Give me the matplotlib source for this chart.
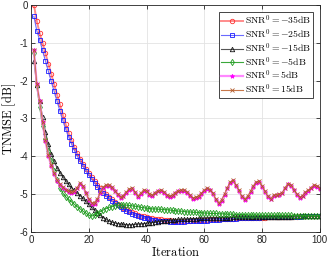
import numpy as np
import matplotlib
matplotlib.use('Agg')
import matplotlib.pyplot as plt

plt.rcParams['mathtext.fontset'] = 'cm'
plt.rcParams['axes.unicode_minus'] = False
plt.rcParams['font.family'] = ['Liberation Sans', 'DejaVu Sans']

iters = np.arange(1, 101)

snr_m35 = [0.0, -0.42, -0.75, -1.0, -1.28, -1.55, -1.82, -2.1, -2.37, -2.63,
           -2.9, -3.15, -3.38, -3.58, -3.76, -3.92, -4.06, -4.2, -4.33, -4.45,
           -4.56, -4.66, -4.76, -4.85, -4.93, -5.0, -5.07, -5.14, -5.2, -5.26,
           -5.31, -5.36, -5.4, -5.44, -5.48, -5.51, -5.54, -5.57, -5.59, -5.61,
           -5.63, -5.64, -5.65, -5.66, -5.67, -5.68, -5.69, -5.69, -5.7, -5.7,
           -5.7, -5.7, -5.7, -5.7, -5.7, -5.69, -5.69, -5.69, -5.68, -5.68,
           -5.68, -5.67, -5.67, -5.67, -5.66, -5.66, -5.66, -5.65, -5.65, -5.65,
           -5.64, -5.64, -5.64, -5.63, -5.63, -5.63, -5.63, -5.62, -5.62, -5.62,
           -5.62, -5.61, -5.61, -5.61, -5.61, -5.61, -5.6, -5.6, -5.6, -5.6,
           -5.6, -5.6, -5.59, -5.59, -5.59, -5.59, -5.59, -5.59, -5.59, -5.59]

snr_m25 = [-0.3, -0.68, -0.93, -1.2, -1.48, -1.75, -2.02, -2.28, -2.54, -2.8,
           -3.05, -3.28, -3.48, -3.67, -3.84, -3.99, -4.13, -4.26, -4.38, -4.5,
           -4.61, -4.71, -4.8, -4.89, -4.97, -5.04, -5.11, -5.18, -5.24, -5.3,
           -5.35, -5.4, -5.44, -5.48, -5.52, -5.55, -5.58, -5.6, -5.62, -5.64,
           -5.66, -5.68, -5.69, -5.7, -5.71, -5.72, -5.72, -5.73, -5.73, -5.73,
           -5.73, -5.73, -5.73, -5.72, -5.72, -5.72, -5.71, -5.71, -5.71, -5.7,
           -5.7, -5.69, -5.69, -5.68, -5.68, -5.67, -5.67, -5.66, -5.66, -5.65,
           -5.65, -5.64, -5.64, -5.63, -5.63, -5.63, -5.62, -5.62, -5.62, -5.61,
           -5.61, -5.61, -5.61, -5.6, -5.6, -5.6, -5.6, -5.6, -5.6, -5.6,
           -5.6, -5.6, -5.6, -5.59, -5.59, -5.59, -5.59, -5.59, -5.59, -5.59]

snr_m15 = [-1.48, -2.12, -2.55, -2.95, -3.35, -3.68, -3.93, -4.13, -4.3, -4.43,
           -4.54, -4.65, -4.74, -4.83, -4.9, -4.97, -5.04, -5.11, -5.19, -5.27,
           -5.35, -5.42, -5.5, -5.56, -5.62, -5.67, -5.71, -5.74, -5.76, -5.78,
           -5.79, -5.8, -5.81, -5.81, -5.81, -5.8, -5.79, -5.79, -5.78, -5.77,
           -5.76, -5.75, -5.74, -5.73, -5.72, -5.71, -5.7, -5.69, -5.68, -5.68,
           -5.67, -5.67, -5.66, -5.66, -5.65, -5.65, -5.65, -5.64, -5.64, -5.64,
           -5.63, -5.63, -5.63, -5.63, -5.62, -5.62, -5.62, -5.62, -5.62, -5.61,
           -5.61, -5.61, -5.61, -5.61, -5.61, -5.61, -5.61, -5.61, -5.61, -5.61,
           -5.6, -5.6, -5.6, -5.6, -5.6, -5.6, -5.6, -5.6, -5.6, -5.6,
           -5.59, -5.59, -5.59, -5.59, -5.59, -5.59, -5.59, -5.59, -5.59, -5.59]

snr_m5 = [-1.28, -2.15, -2.7, -3.2, -3.55, -3.85, -4.12, -4.4, -4.62, -4.83,
          -4.97, -5.07, -5.14, -5.2, -5.27, -5.33, -5.39, -5.45, -5.5, -5.56,
          -5.58, -5.55, -5.51, -5.46, -5.42, -5.38, -5.35, -5.33, -5.31, -5.3,
          -5.29, -5.29, -5.29, -5.3, -5.31, -5.32, -5.33, -5.35, -5.36, -5.37,
          -5.38, -5.39, -5.39, -5.4, -5.4, -5.41, -5.41, -5.42, -5.43, -5.44,
          -5.45, -5.45, -5.46, -5.47, -5.47, -5.48, -5.48, -5.49, -5.49, -5.5,
          -5.5, -5.51, -5.51, -5.51, -5.52, -5.52, -5.52, -5.53, -5.53, -5.53,
          -5.54, -5.54, -5.54, -5.54, -5.55, -5.55, -5.55, -5.55, -5.55, -5.56,
          -5.56, -5.56, -5.56, -5.56, -5.56, -5.56, -5.56, -5.56, -5.56, -5.56,
          -5.57, -5.57, -5.57, -5.57, -5.57, -5.57, -5.57, -5.57, -5.57, -5.57]

snr_p5 = [-1.2, -2.1, -2.55, -3.1, -3.6, -3.98, -4.25, -4.47, -4.64, -4.76,
          -4.84, -4.9, -4.94, -4.96, -4.95, -4.85, -4.73, -4.8, -4.98, -5.15,
          -5.25, -5.26, -5.15, -4.97, -4.83, -4.78, -4.78, -4.84, -4.93, -5.02,
          -5.1, -5.06, -4.97, -4.88, -4.86, -4.97, -5.07, -5.0, -4.91, -4.93,
          -5.02, -5.04, -4.98, -4.93, -4.91, -4.96, -5.04, -5.08, -5.04, -4.98,
          -4.93, -4.91, -4.91, -4.96, -5.05, -5.12, -5.1, -5.07, -5.0, -4.92,
          -4.86, -4.9, -5.0, -5.15, -5.26, -5.17, -5.02, -4.85, -4.7, -4.65,
          -4.78, -4.92, -5.08, -5.15, -5.08, -4.95, -4.8, -4.7, -4.68, -4.8,
          -4.95, -5.08, -5.14, -5.05, -5.03, -5.02, -4.98, -4.85, -4.74, -4.78,
          -4.9, -5.02, -5.1, -5.06, -4.97, -4.92, -4.85, -4.78, -4.8, -4.87]

snr_p15 = [-1.19, -2.09, -2.54, -3.08, -3.58, -3.96, -4.23, -4.45, -4.62, -4.74,
           -4.82, -4.88, -4.92, -4.94, -4.93, -4.83, -4.71, -4.78, -4.96, -5.13,
           -5.23, -5.24, -5.13, -4.95, -4.81, -4.76, -4.76, -4.82, -4.91, -5.0,
           -5.08, -5.04, -4.95, -4.86, -4.84, -4.95, -5.05, -4.98, -4.89, -4.91,
           -5.0, -5.02, -4.96, -4.91, -4.89, -4.94, -5.02, -5.06, -5.02, -4.96,
           -4.91, -4.89, -4.89, -4.94, -5.03, -5.1, -5.08, -5.05, -4.98, -4.9,
           -4.84, -4.88, -4.98, -5.13, -5.24, -5.15, -5.0, -4.83, -4.68, -4.63,
           -4.76, -4.9, -5.06, -5.13, -5.06, -4.93, -4.78, -4.68, -4.66, -4.78,
           -4.93, -5.06, -5.12, -5.03, -5.01, -5.0, -4.96, -4.83, -4.72, -4.76,
           -4.88, -5.0, -5.08, -5.04, -4.95, -4.9, -4.83, -4.76, -4.78, -4.85]

labels = [r'$\mathrm{SNR}^0=-35\mathrm{dB}$', r'$\mathrm{SNR}^0=-25\mathrm{dB}$',
          r'$\mathrm{SNR}^0=-15\mathrm{dB}$', r'$\mathrm{SNR}^0=-5\mathrm{dB}$',
          r'$\mathrm{SNR}^0=5\mathrm{dB}$', r'$\mathrm{SNR}^0=15\mathrm{dB}$']

fig = plt.figure(figsize=(3.32, 2.63), dpi=100)
ax = fig.add_axes([0.0934, 0.118, 0.870, 0.863])

ms = 3.2
ax.plot(iters, snr_m35, color='#ff8c8c', lw=1.4, marker='o', ms=ms, mfc='none', mec='#ff3030', mew=0.6, label=labels[0])
ax.plot(iters, snr_m25, color='#6a6aff', lw=0.8, marker='s', ms=ms - 0.3, mfc='none', mec='#1a1aff', mew=0.6, label=labels[1])
ax.plot(iters, snr_m15, color='#555555', lw=0.8, marker='^', ms=ms, mfc='none', mec='#111111', mew=0.6, label=labels[2])
ax.plot(iters, snr_m5, color='#3aa83a', lw=0.8, marker='d', ms=ms, mfc='none', mec='#1c9a1c', mew=0.6, label=labels[3])
ax.plot(iters, snr_p5, color='#ff88ff', lw=1.6, marker='*', ms=ms, mfc='#ff00ff', mec='#ff00ff', mew=0.6, label=labels[4])
ax.plot(iters, snr_p15, color='#c8784a', lw=0.8, marker='x', ms=ms - 0.8, mfc='none', mec='#b05a2a', mew=0.6, label=labels[5])

ax.set_xlim(0, 100)
ax.set_ylim(-6, 0)
ax.set_xticks([0, 20, 40, 60, 80, 100])
ax.set_xticklabels(['0', '20', '40', '60', '80', '100'])
ax.set_yticks([0, -1, -2, -3, -4, -5, -6])
ax.set_yticklabels(['0', '-1', '-2', '-3', '-4', '-5', '-6'])
ax.tick_params(direction='in', length=3, width=0.6, labelsize=7, colors='#262626',
               top=True, right=True, pad=2)
ax.grid(True, color='#e3e3e3', lw=0.6)
ax.set_axisbelow(True)
for s in ax.spines.values():
    s.set_color('#262626')
    s.set_linewidth(0.6)

ax.set_xlabel(r'$\mathrm{Iteration}$', fontsize=9, labelpad=1)
ax.set_ylabel(r'$\mathrm{TNMSE\ [dB]}$', fontsize=9, labelpad=1)

leg = ax.legend(loc='upper right', bbox_to_anchor=(0.976, 0.969), borderaxespad=0,
                fontsize=7, fancybox=False, edgecolor='#262626', framealpha=1,
                handlelength=2.2, handletextpad=0.2, labelspacing=0.02,
                borderpad=0.2)
leg.get_frame().set_linewidth(0.6)

fig.savefig('out.png', dpi=100)
